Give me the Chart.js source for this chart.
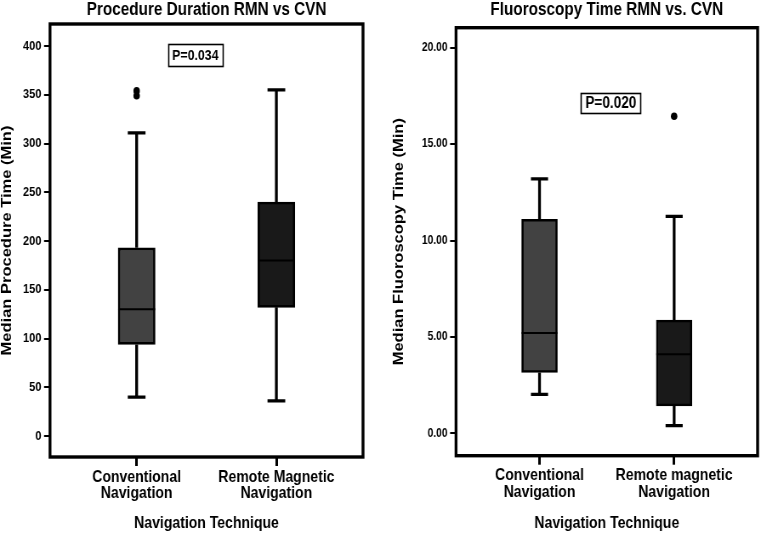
<!DOCTYPE html>
<html>
<head>
<meta charset="utf-8">
<script src="https://cdn.jsdelivr.net/npm/chart.js@4.4.1/dist/chart.umd.min.js"></script>
<style>
    html, body { margin: 0; padding: 0; background: #ffffff; overflow: hidden; }
    .panel { position: absolute; top: 0; transform-origin: 0 0; }
    #procPanel { left: 0; }
    #fluoroPanel { left: 380px; }
</style>
</head>
<body>
<!-- the original figure is horizontally condensed, so each canvas is drawn wider and squeezed to fit -->
<div class="panel" id="procPanel"><canvas id="procChart" width="447" height="534"></canvas></div>
<div class="panel" id="fluoroPanel"><canvas id="fluoroChart" width="448" height="534"></canvas></div>
<script>
// Navigation groups (x categories)
const procCategories = [['Conventional', 'Navigation'], ['Remote Magnetic', 'Navigation']];
const fluoroCategories = [['Conventional', 'Navigation'], ['Remote magnetic', 'Navigation']];

// Procedure duration (min) - box plot values per group
const procMin = [40, 36];
const procQ1 = [94, 132];
const procMedian = [130, 180];
const procQ3 = [193, 240];
const procMax = [311, 355];
const procOutliers = [[349, 354], []];
const procTicks = [0, 50, 100, 150, 200, 250, 300, 350, 400];

// Fluoroscopy time (min) - box plot values per group
const fluoroMin = [2.02, 0.40];
const fluoroQ1 = [3.16, 1.42];
const fluoroMedian = [5.2, 4.1];
const fluoroQ3 = [11.1, 5.88];
const fluoroMax = [13.2, 11.25];
const fluoroOutliers = [[], [16.45]];
const fluoroTicks = [0, 5, 10, 15, 20];

const FONT = "'Liberation Sans', Arial, sans-serif";
const boxColors = ['#424242', '#191919'];

// Whiskers, caps, medians, frame and p-value label, all placed through the scales
const boxPartsPlugin = {
    id: 'boxParts',
    beforeDatasetsDraw(chart, args, opts) {
        const { ctx, scales: { x, y } } = chart;
        const meta = chart.getDatasetMeta(0);
        ctx.save();
        ctx.strokeStyle = '#000';
        ctx.lineWidth = 3.3;
        opts.q1.forEach((q1, i) => {
            const cx = x.getPixelForValue(i);
            const half = meta.data[i].width * 0.24;
            const yMax = y.getPixelForValue(opts.max[i]);
            const yMin = y.getPixelForValue(opts.min[i]);
            ctx.beginPath();
            ctx.moveTo(cx, y.getPixelForValue(opts.q3[i]));
            ctx.lineTo(cx, yMax);
            ctx.moveTo(cx - half, yMax);
            ctx.lineTo(cx + half, yMax);
            ctx.moveTo(cx, y.getPixelForValue(q1));
            ctx.lineTo(cx, yMin);
            ctx.moveTo(cx - half, yMin);
            ctx.lineTo(cx + half, yMin);
            ctx.stroke();
        });
        ctx.restore();
    },
    afterDatasetsDraw(chart, args, opts) {
        const { ctx, chartArea, scales: { x, y } } = chart;
        const meta = chart.getDatasetMeta(0);
        ctx.save();
        ctx.strokeStyle = '#000';
        ctx.lineWidth = 2;
        opts.median.forEach((m, i) => {
            const bar = meta.data[i];
            const py = y.getPixelForValue(m);
            ctx.beginPath();
            ctx.moveTo(bar.x - bar.width / 2, py);
            ctx.lineTo(bar.x + bar.width / 2, py);
            ctx.stroke();
        });

        // plot frame
        ctx.lineWidth = 3.4;
        ctx.strokeRect(chartArea.left, chartArea.top, chartArea.right - chartArea.left, chartArea.bottom - chartArea.top);

        // p-value box
        const px = x.getPixelForValue(opts.pAt[0]);
        const py = y.getPixelForValue(opts.pAt[1]);
        ctx.font = 'bold ' + opts.pSize + 'px ' + FONT;
        ctx.textAlign = 'center';
        ctx.textBaseline = 'middle';
        ctx.fillStyle = '#000';
        const tw = ctx.measureText(opts.pText).width;
        ctx.lineWidth = 1.6;
        ctx.strokeRect(Math.round(px - tw / 2 - 5) + 0.5, Math.round(py - opts.pBoxH / 2) + 0.5, Math.round(tw + 10), opts.pBoxH);
        ctx.fillText(opts.pText, px, py + 1);
        ctx.restore();
    }
};

function makeBoxChart(canvasId, panelId, cssWidth, s) {
    const ctx = document.getElementById(canvasId);
    if (!ctx) return;
    document.getElementById(panelId).style.transform = 'scale(' + (cssWidth / ctx.width) + ', 1)';

    const boxData = s.q1.map((q1, i) => ({ x: i, y: [q1, s.q3[i]] }));
    const outlierData = [];
    s.outliers.forEach((list, i) => list.forEach(v => outlierData.push({ x: i, y: v })));

    const config = {
        type: 'bar',
        data: {
            datasets: [{
                type: 'bar',
                data: boxData,
                backgroundColor: boxColors,
                borderColor: '#000000',
                borderWidth: 2.6,
                borderSkipped: false,
                barThickness: s.barWidth,
                grouped: false,
                order: 2
            }, {
                type: 'scatter',
                data: outlierData,
                backgroundColor: '#000000',
                borderColor: '#000000',
                pointRadius: 3.8,
                borderWidth: 0,
                order: 1
            }]
        },
        options: {
            responsive: false,
            animation: false,
            layout: {
                padding: { left: 0, right: s.padRight, top: 0, bottom: 0 }
            },
            plugins: {
                legend: { display: false },
                tooltip: { enabled: false },
                title: {
                    display: true,
                    text: s.title,
                    fullSize: false,
                    color: '#000',
                    font: { family: FONT, size: 18, weight: 'bold', lineHeight: 1 },
                    padding: { top: 1, bottom: s.titleGap }
                },
                boxParts: {
                    q1: s.q1, q3: s.q3, median: s.median, min: s.min, max: s.max,
                    pText: s.pText, pAt: s.pAt, pSize: s.pSize, pBoxH: s.pBoxH
                }
            },
            scales: {
                x: {
                    type: 'linear',
                    min: -0.62,
                    max: 1.62,
                    offset: false,
                    border: { display: false },
                    grid: {
                        offset: false,
                        drawOnChartArea: false,
                        drawTicks: true,
                        tickLength: 9,
                        color: '#000',
                        lineWidth: 3
                    },
                    afterBuildTicks: axis => {
                        axis.ticks = s.categories.map((c, i) => ({ value: i }));
                    },
                    afterFit: axis => { axis.height = s.xAxisHeight; },
                    ticks: {
                        color: '#000',
                        autoSkip: false,
                        maxRotation: 0,
                        padding: 3,
                        font: { family: FONT, size: 16.5, weight: 'bold', lineHeight: 1 },
                        callback: value => s.categories[value]
                    },
                    title: {
                        display: true,
                        text: 'Navigation Technique',
                        color: '#000',
                        font: { family: FONT, size: 16.5, weight: 'bold', lineHeight: 1 },
                        padding: { top: 0, bottom: 2.5 }
                    }
                },
                y: {
                    min: s.yMin,
                    max: s.yMax,
                    border: { display: false },
                    grid: {
                        drawOnChartArea: false,
                        drawTicks: true,
                        tickLength: 7,
                        color: '#000',
                        lineWidth: 2
                    },
                    afterBuildTicks: axis => {
                        axis.ticks = s.ticks.map(v => ({ value: v }));
                    },
                    afterFit: axis => { axis.width = s.yAxisWidth; },
                    ticks: {
                        color: '#000',
                        padding: 3,
                        font: { family: FONT, size: s.tickSize, weight: 'bold' },
                        callback: value => s.tickFormat(value)
                    },
                    title: {
                        display: true,
                        text: s.yTitle,
                        color: '#000',
                        font: { family: FONT, size: 16.5, weight: 'bold', lineHeight: 1 },
                        padding: { top: s.yTitlePad, bottom: 0 }
                    }
                }
            }
        },
        plugins: [boxPartsPlugin]
    };

    new Chart(ctx, config);
}

makeBoxChart('procChart', 'procPanel', 380, {
    categories: procCategories,
    min: procMin, q1: procQ1, median: procMedian, q3: procQ3, max: procMax,
    outliers: procOutliers,
    ticks: procTicks,
    tickFormat: v => String(v),
    tickSize: 13,
    yMin: -21.5, yMax: 422.6,
    title: 'Procedure Duration RMN vs CVN',
    yTitle: 'Median Procedure Time (Min)',
    pText: 'P=0.034', pAt: [0.42, 391], pSize: 14.5, pBoxH: 22,
    barWidth: 43.5, padRight: 20, titleGap: 5,
    xAxisHeight: 77, yAxisWidth: 58.8, yTitlePad: 0
});

makeBoxChart('fluoroChart', 'fluoroPanel', 381, {
    categories: fluoroCategories,
    min: fluoroMin, q1: fluoroQ1, median: fluoroMedian, q3: fluoroQ3, max: fluoroMax,
    outliers: fluoroOutliers,
    ticks: fluoroTicks,
    tickFormat: v => v.toFixed(2),
    tickSize: 12,
    yMin: -1.16, yMax: 21.04,
    title: 'Fluoroscopy Time RMN vs. CVN',
    yTitle: 'Median Fluoroscopy Time (Min)',
    pText: 'P=0.020', pAt: [0.53, 17.15], pSize: 16, pBoxH: 20,
    barWidth: 42, padRight: 1.5, titleGap: 8.7,
    xAxisHeight: 78.3, yAxisWidth: 89.4, yTitlePad: 14
});
</script>
</body>
</html>
